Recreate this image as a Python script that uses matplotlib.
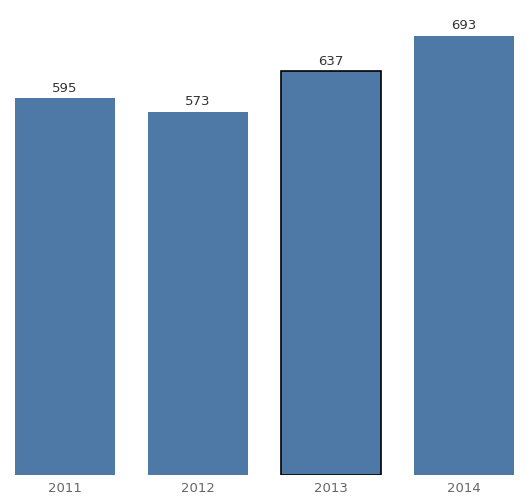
import matplotlib
matplotlib.use('Agg')
import matplotlib.pyplot as plt
import numpy as np

years = ['2011', '2012', '2013', '2014']
values = [595, 573, 637, 693]
highlight = '2013'

fig = plt.figure(figsize=(5.32, 5.01), dpi=100)
ax = fig.add_axes([0, 26 / 501, 1, 475 / 501])

x = np.arange(len(years))
for i, (yr, v) in enumerate(zip(years, values)):
    if yr == highlight:
        ax.bar(i, v, width=0.752, color='#4e79a7', edgecolor='black', linewidth=1.2)
    else:
        ax.bar(i, v, width=0.752, color='#4e79a7', linewidth=0)
    ax.annotate(str(v), (i, v), xytext=(0, 2.5), textcoords='offset points',
                ha='center', va='bottom', fontsize=9.5, color='#333333')

ax.set_xlim(-0.489, 3.511)
ax.set_ylim(0, 749.7)
ax.set_xticks(x)
ax.set_xticklabels(years, fontsize=9.5, color='#666666')
ax.tick_params(axis='x', length=0, pad=5)
ax.set_yticks([])
for s in ax.spines.values():
    s.set_visible(False)

fig.savefig('out.png', dpi=100)
